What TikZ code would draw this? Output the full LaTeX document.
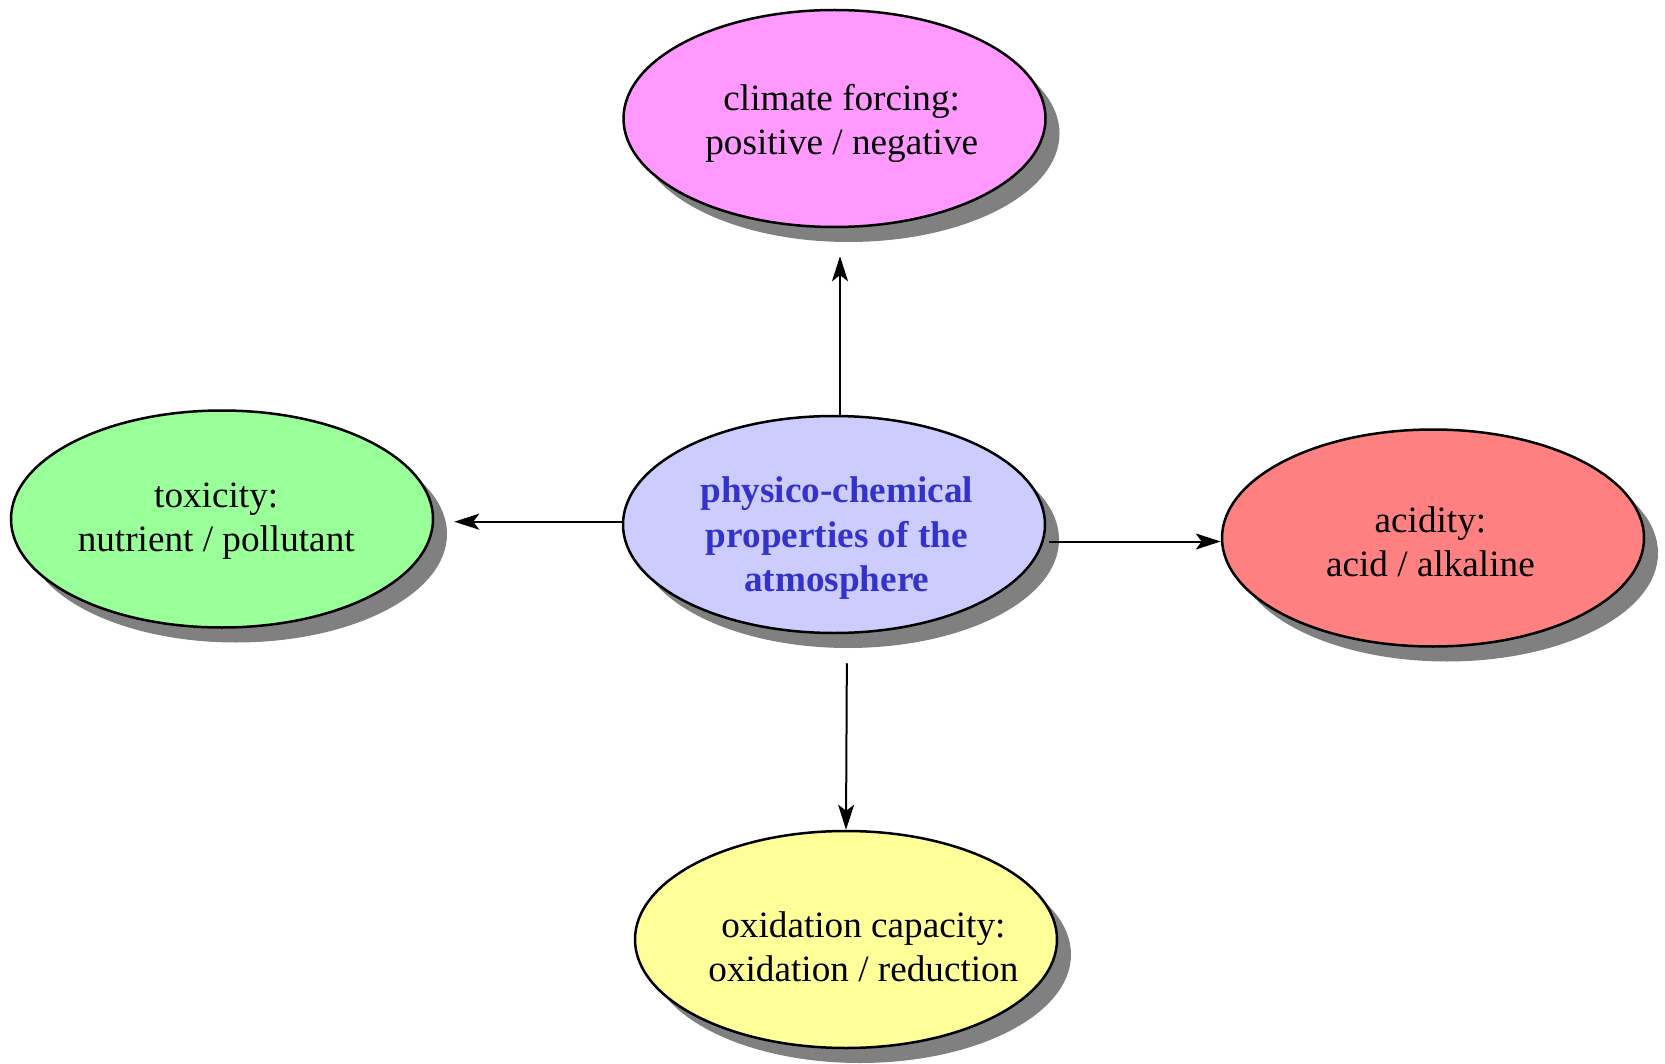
\documentclass[tikz,border=0pt]{standalone}
\usepackage{fontspec}
\setmainfont{Liberation Serif}
\usetikzlibrary{shapes.geometric,shadows,arrows.meta}

\definecolor{climatefill}{HTML}{FF99FF}
\definecolor{corefill}{HTML}{CCCCFF}
\definecolor{toxicfill}{HTML}{99FF99}
\definecolor{acidfill}{HTML}{FF8080}
\definecolor{oxfill}{HTML}{FFFF99}
\definecolor{coretext}{HTML}{3333CC}
\definecolor{shadowgray}{HTML}{808080}

\begin{document}
\begin{tikzpicture}[x=0.5pt,y=-0.5pt,
  bubble/.style={ellipse, draw=black, line width=1.25pt,
    minimum width=211pt, minimum height=108.5pt, inner sep=0pt,
    drop shadow={shadow xshift=7pt, shadow yshift=-7.5pt,
      fill=shadowgray, opacity=1}},
  caption/.style={align=center, inner sep=0pt,
    font=\fontsize{18.6}{21.9}\selectfont},
  link/.style={-{Stealth[length=12.5pt,width=8pt,inset=3pt]},
    line width=1pt}]

  % canvas
  \useasboundingbox (0,0) rectangle (1665,1064);

  % property bubbles, each with its caption set inside
  \node[bubble, fill=corefill, label={[caption, text=coretext,
        font=\fontsize{18.6}{22.3}\selectfont\bfseries,
        xshift=1.4pt, yshift=-6.9pt]center:physico-chemical\\properties of the\\atmosphere}]
    (core) at (834,524.5) {};
  \node[bubble, fill=climatefill, label={[caption, xshift=3.6pt, yshift=-2.3pt]center:climate forcing:\\positive / negative}]
    (climate) at (834.5,118.5) {};
  \node[bubble, fill=toxicfill, label={[caption, xshift=-2.9pt, yshift=-1pt]center:toxicity:\\nutrient / pollutant}]
    (toxic) at (222,519) {};
  \node[bubble, fill=acidfill, label={[caption, xshift=-1.3pt, yshift=-1.7pt]center:acidity:\\acid / alkaline}]
    (acid) at (1433,538) {};
  \node[bubble, fill=oxfill, label={[caption, xshift=8.7pt, yshift=-3.6pt]center:oxidation capacity:\\oxidation / reduction}]
    (oxid) at (846,939.5) {};

  % connectors
  \draw[link, shorten >=14pt] ([xshift=3pt]core.north) -- ([xshift=3pt]core.north |- climate.south);
  \draw[link, shorten >=10pt] ([yshift=1.4pt]core.west) -- ([yshift=1.4pt]core.west -| toxic.east);
  \draw[link] ([xshift=1.5pt,yshift=-8.5pt]core.east) -- ([yshift=-8.5pt]core.east -| acid.west);
  \draw[link, shorten <=14.5pt] ([xshift=6.5pt]core.south) -- (oxid.north);
\end{tikzpicture}
\end{document}
